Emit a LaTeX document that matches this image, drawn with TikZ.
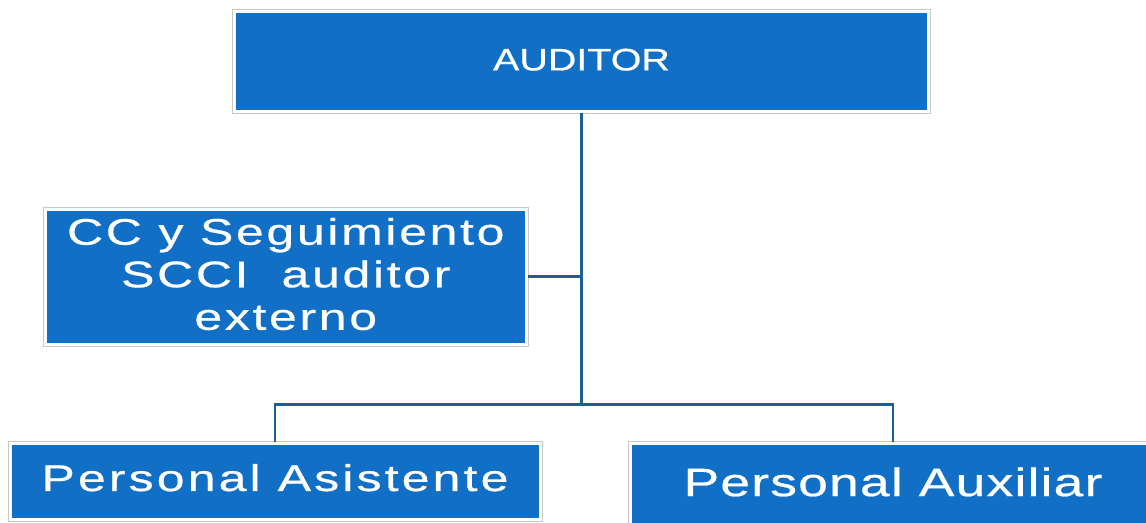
\documentclass[tikz,border=0pt]{standalone}
\usepackage{fontspec}
\newfontfamily\orgfont[FakeStretch=1.35,FakeBold=0.6]{Liberation Sans}
\newfontfamily\topfont[FakeStretch=1.27,FakeBold=0.6]{Liberation Sans}
\definecolor{boxblue}{RGB}{17,112,198}
\definecolor{linkblue}{RGB}{31,93,153}
\definecolor{framegray}{RGB}{200,200,200}

\tikzset{every picture/.style={line width=0.75pt}}
\tikzset{
  orgbox/.style={rectangle, fill=boxblue, draw=white, line width=2.25pt,
    preaction={draw=framegray, line width=3.75pt}, text=white, inner sep=0pt, align=center},
  link/.style={draw=linkblue, line width=1.75pt},
  trunk/.style={draw=linkblue, line width=2.5pt}
}

\begin{document}
\begin{tikzpicture}[x=0.75pt,y=0.75pt,yscale=-1,xscale=1]
		\useasboundingbox (0,0) rectangle (1146,522);
		\clip (0,0) rectangle (1146,522);

		% Text Node
		\node [orgbox, minimum width=520.5pt, minimum height=75pt, text depth=2.2pt,
		  font={\fontsize{23.3pt}{27pt}\topfont}] (auditor) at (581.5,61) {AUDITOR};
		% Text Node
		\node [orgbox, minimum width=361.1pt, minimum height=101.25pt, text depth=4pt,
		  font={\fontsize{27.8pt}{31.9pt}\orgfont\addfontfeatures{LetterSpace=7.1}}] (cc) at (285.75,276.5) {CC y Seguimiento\\SCCI\ \ auditor\\externo};
		% Text Node
		\node [orgbox, minimum width=397.5pt, minimum height=57pt, text depth=5.2pt,
		  font={\fontsize{27.8pt}{31pt}\orgfont\addfontfeatures{LetterSpace=8.4}}] (asistente) at (275,481) {Personal Asistente};
		% Text Node
		\node [orgbox, minimum width=394.5pt, minimum height=61.9pt, text depth=4.5pt,
		  font={\fontsize{29.7pt}{33pt}\orgfont\addfontfeatures{LetterSpace=3}}] (auxiliar) at (893,484.75) {Personal Auxiliar};

		%Straight Lines
		\coordinate (hub) at (581.5,404.5);
		\draw [trunk] (auditor.south) -- (hub);
		%Straight Lines
		\draw [link] (cc.east) -- (cc.east -| hub);
		%Straight Lines
		\draw [link] (asistente.north) |- (hub) -| (auxiliar.north);

\end{tikzpicture}
\end{document}
